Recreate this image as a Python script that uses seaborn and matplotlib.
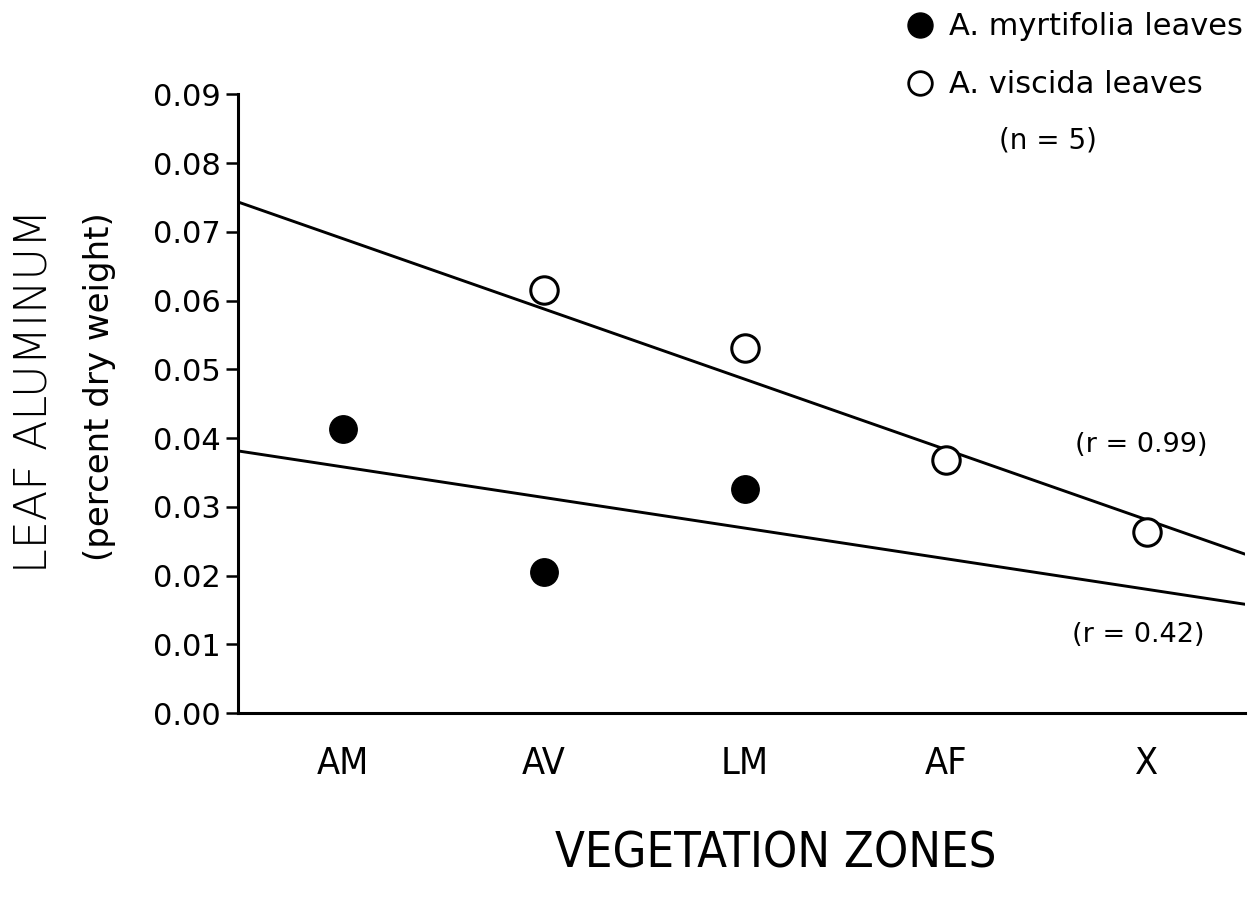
import numpy as np
import pandas as pd
import matplotlib
matplotlib.use("Agg")
import matplotlib.pyplot as plt
import seaborn as sns
from matplotlib.lines import Line2D
from matplotlib import font_manager

# ---- data ----
zones = ["AM", "AV", "LM", "AF", "X"]
myrt_zones = ["AM", "AV", "LM"]
myrt_values = [0.0413, 0.0205, 0.0326]
visc_zones = ["AV", "LM", "AF", "X"]
visc_values = [0.0615, 0.0531, 0.0368, 0.0263]
# regression lines (value at AM position, slope per zone)
visc_fit = [0.0690, -0.01022]
myrt_fit = [0.0358, -0.00445]
yticks = [0.00, 0.01, 0.02, 0.03, 0.04, 0.05, 0.06, 0.07, 0.08, 0.09]

sns.set_theme(style="white")
plt.rcParams["font.family"] = ["DejaVu Sans"]
for k in ["text.color", "axes.labelcolor", "xtick.color", "ytick.color"]:
    plt.rcParams[k] = "black"

names = {f.name for f in font_manager.fontManager.ttflist}
narrow = "Liberation Sans Narrow" if "Liberation Sans Narrow" in names else None

fig = plt.figure(figsize=(12.55, 8.98), dpi=100)
ax = fig.add_axes([0.19, 0.206, 0.802, 0.689])

pos = {z: i for i, z in enumerate(zones)}
df_m = pd.DataFrame({"x": [pos[z] for z in myrt_zones], "y": myrt_values})
df_v = pd.DataFrame({"x": [pos[z] for z in visc_zones], "y": visc_values})

xlim = (-0.52, 4.49)
xs = np.array(xlim)
df_fit = pd.DataFrame({
    "x": np.concatenate([xs, xs]),
    "y": np.concatenate([visc_fit[0] + visc_fit[1] * xs, myrt_fit[0] + myrt_fit[1] * xs]),
    "s": ["v", "v", "m", "m"],
})
sns.lineplot(data=df_fit, x="x", y="y", units="s", estimator=None, color="black",
             lw=2.1, ax=ax, legend=False)
sns.scatterplot(data=df_v, x="x", y="y", s=390, facecolor="white", edgecolor="black",
                linewidth=2.2, ax=ax, zorder=3, legend=False)
sns.scatterplot(data=df_m, x="x", y="y", s=390, color="black", edgecolor="black",
                linewidth=1, ax=ax, zorder=3, legend=False)

ax.set_xlim(*xlim)
ax.set_ylim(0, 0.09)
ax.set_xticks(range(len(zones)))
ax.set_xticklabels(zones, fontsize=27, fontstretch="condensed")
ax.set_yticks(yticks)
ax.set_yticklabels([f"{t:.2f}" for t in yticks], fontsize=22)
ax.tick_params(axis="y", direction="out", length=9, width=1.8, pad=4, left=True)
ax.tick_params(axis="x", length=0, pad=24)
for s in ["top", "right"]:
    ax.spines[s].set_visible(False)
for s in ["left", "bottom"]:
    ax.spines[s].set_color("black")
    ax.spines[s].set_linewidth(2.2)
ax.set_xlabel("")
ax.set_ylabel("")

if narrow:
    fig.text(0.618, 0.05, "VEGETATION ZONES", fontsize=38, family=[narrow, "DejaVu Sans"],
             ha="center", va="center")
else:
    fig.text(0.618, 0.05, "VEGETATION ZONES", fontsize=35, fontstretch="condensed",
             ha="center", va="center")
fig.text(0.027, 0.565, "LEAF ALUMINUM", fontsize=32, fontweight=200,
         rotation=90, ha="center", va="center")
fig.text(0.079, 0.570, "(percent dry weight)", fontsize=24.5, rotation=90,
         ha="center", va="center")

fig.text(0.909, 0.505, "(r = 0.99)", fontsize=19.5, ha="center", va="center")
fig.text(0.907, 0.293, "(r = 0.42)", fontsize=19.5, ha="center", va="center")

handles = [
    Line2D([], [], marker="o", ls="", markersize=18, markerfacecolor="black",
           markeredgecolor="black", label="A. myrtifolia leaves"),
    Line2D([], [], marker="o", ls="", markersize=17, markerfacecolor="white",
           markeredgecolor="black", markeredgewidth=2, label="A. viscida leaves"),
]
leg = fig.legend(handles=handles, loc="upper left", bbox_to_anchor=(0.711, 1.0),
                 frameon=False, fontsize=22, handletextpad=0.45, labelspacing=0.95,
                 handlelength=1.0, borderaxespad=0)
fig.text(0.835, 0.843, "(n = 5)", fontsize=20, ha="center", va="center")

fig.savefig("out.png", dpi=100)
